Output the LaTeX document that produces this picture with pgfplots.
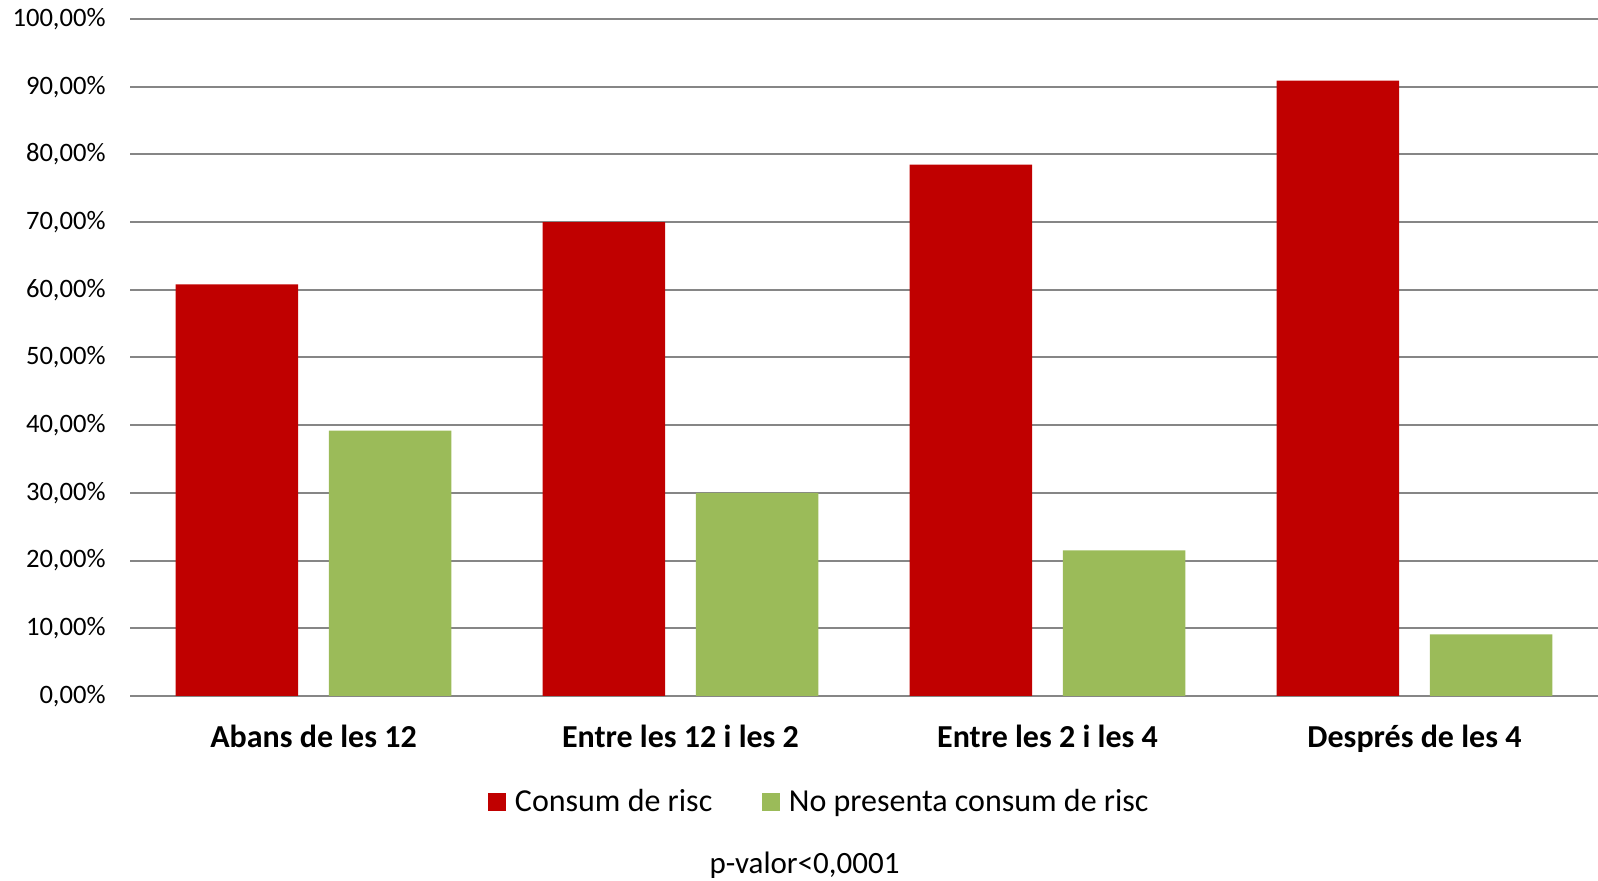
\documentclass[border=0pt]{standalone}
\usepackage{pgfplots}
\pgfplotsset{compat=1.18}
\usepackage{fontspec}
\setmainfont{Carlito}
\definecolor{cred}{HTML}{C00000}
\definecolor{cgreen}{HTML}{9BBB59}
\definecolor{cgrid}{HTML}{868686}
\begin{document}
\begin{tikzpicture}
\path[use as bounding box] (0,0) rectangle (799pt,440.5pt);
\begin{axis}[
  at={(65pt,92.5pt)}, anchor=south west,
  scale only axis, width=734pt, height=338.5pt,
  ybar, bar width=0.334,
  xmin=-0.5, xmax=3.5, ymin=0, ymax=100,
  enlargelimits=false,
  axis line style={draw=none},
  major tick length=0pt,
  ymajorgrids, major grid style={color=cgrid, line width=1pt},
  ytick={0,10,...,100},
  yticklabels={{0,00\%},{10,00\%},{20,00\%},{30,00\%},{40,00\%},{50,00\%},{60,00\%},{70,00\%},{80,00\%},{90,00\%},{100,00\%}},
  yticklabel style={font=\fontsize{13.3}{16}\selectfont, anchor=east, inner sep=0pt, xshift=-12pt},
  xtick={0,1,2,3},
  xticklabels={Abans de les 12, Entre les 12 i les 2, Entre les 2 i les 4, Després de les 4},
  xticklabel style={font=\bfseries\fontsize{16}{19}\selectfont, anchor=base, inner sep=0pt, yshift=-26pt},
  legend style={at={(0.2439,-0.1565)}, anchor=west, draw=none, fill=none, inner sep=0pt,
    font=\fontsize{16}{19}\selectfont, nodes={inner sep=1.5pt},
    /tikz/every odd column/.append style={column sep=3pt},
    /tikz/every even column/.append style={column sep=23.5pt}},
  legend columns=2,
  legend image code/.code={\fill[#1] (0pt,-4.4pt) rectangle (8.75pt,4.4pt);},
  clip=false,
]
\addplot[fill=cred, draw=none, bar shift=-0.2087] coordinates {(0,60.8) (1,70.0) (2,78.5) (3,90.9)};
\addplot[fill=cgreen, draw=none, bar shift=0.2087] coordinates {(0,39.2) (1,30.0) (2,21.5) (3,9.1)};
\legend{Consum de risc, No presenta consum de risc}
\node[font=\fontsize{15.5}{18}\selectfont, anchor=center] at (rel axis cs:0.4595,-0.2505) {p-valor<0,0001};
\end{axis}
\end{tikzpicture}
\end{document}
